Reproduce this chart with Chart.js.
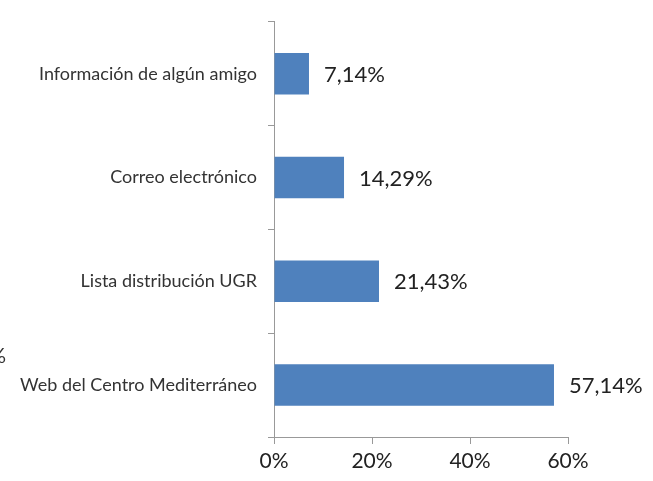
<!DOCTYPE html>
<html>
<head>
<meta charset="utf-8">
<script src="https://cdn.jsdelivr.net/npm/chart.js@4"></script>
<style>
  html, body { margin: 0; padding: 0; background: #fff; }
  #wrap { width: 653px; height: 481px; position: relative; }
</style>
</head>
<body>
<div id="wrap"><canvas id="myChart" width="653" height="481"></canvas></div>
<script>
// Datos del gráfico
const categorias = ['Información de algún amigo', 'Correo electrónico', 'Lista distribución UGR', 'Web del Centro Mediterráneo'];
const porcentajes = [7.14, 14.29, 21.43, 57.14];
const etiquetas = ['7,14%', '14,29%', '21,43%', '57,14%'];
const ticksX = [0, 20, 40, 60];

const fuente = 'Lato, "Open Sans", sans-serif';

// Etiquetas al final de cada barra
const etiquetasBarras = {
  id: 'etiquetasBarras',
  afterDatasetsDraw(chart) {
    const ctx = chart.ctx;
    const meta = chart.getDatasetMeta(0);
    ctx.save();
    ctx.font = '22px ' + fuente;
    ctx.fillStyle = '#222';
    ctx.textAlign = 'left';
    ctx.textBaseline = 'middle';
    meta.data.forEach(function(bar, i){
      ctx.fillText(etiquetas[i], bar.x + 15, bar.y + 1);
    });
    // resto de texto cortado en el borde izquierdo
    ctx.fillStyle = '#333';
    ctx.font = '21px ' + fuente;
    ctx.fillText('0%', -23, 356);
    ctx.restore();
  }
};

var ctx = document.getElementById('myChart').getContext('2d');
var myChart = new Chart(ctx, {
  type: 'bar',
  data: {
    labels: categorias,
    datasets: [{
      data: porcentajes,
      backgroundColor: '#4f81bd',
      borderWidth: 0,
      categoryPercentage: 1,
      barPercentage: 0.4
    }]
  },
  options: {
    indexAxis: 'y',
    responsive: false,
    animation: false,
    layout: { padding: { top: 2, right: 85, left: 0, bottom: 0 } },
    plugins: { legend: { display: false }, tooltip: { enabled: false } },
    scales: {
      x: {
        min: 0,
        max: 60,
        afterBuildTicks: function(scale){
          scale.ticks = ticksX.map(function(v){ return { value: v }; });
        },
        afterFit: function(scale){ scale.height = 44; },
        grid: { drawOnChartArea: false, color: '#999', tickLength: 7 },
        border: { color: '#999' },
        ticks: {
          color: '#222',
          font: { family: fuente, size: 21 },
          padding: 5,
          callback: function(v){ return v + '%'; }
        }
      },
      y: {
        afterFit: function(scale){ scale.width = 274; },
        grid: { drawOnChartArea: false, color: '#999', tickLength: 6, offset: true },
        border: { color: '#999' },
        ticks: {
          color: '#333',
          font: { family: fuente, size: 18 },
          padding: 11
        }
      }
    }
  },
  plugins: [etiquetasBarras]
});
</script>
</body>
</html>
